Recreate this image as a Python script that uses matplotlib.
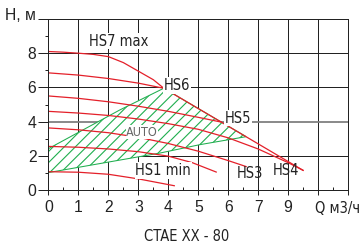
import matplotlib
matplotlib.use('Agg')
import matplotlib.pyplot as plt
from matplotlib import font_manager
from matplotlib.font_manager import FontProperties
from matplotlib.ticker import MultipleLocator
from matplotlib.transforms import offset_copy

plt.rcParams['font.family'] = ['Liberation Sans', 'DejaVu Sans']
plt.rcParams['hatch.linewidth'] = 0.8

# pick a narrow font file if one is installed
narrow_file = None
files = [f.fname for f in font_manager.fontManager.ttflist]
for key in ['LiberationSansNarrow-Regular', 'DejaVuSansCondensed.', 'RobotoCondensed-Regular',
            'NotoSans-Condensed', 'Roboto-Regular']:
    hit = [p for p in files if key in p]
    if hit:
        narrow_file = hit[0]
        break


def nfont(size):
    if narrow_file:
        return FontProperties(fname=narrow_file, size=size)
    return FontProperties(family='Liberation Sans', size=size * 0.85)


# Q, m3/h -> H, m
max_q = [0, 0.5, 1, 1.5, 2, 2.5, 3, 3.5, 3.85, 5.77, 8.5]
max_h = [8.1, 8.06, 8.0, 7.93, 7.8, 7.45, 6.95, 6.45, 5.95, 3.97, 1.15]
hs6_q = [0, 1, 2, 3, 3.85]
hs6_h = [6.85, 6.72, 6.52, 6.25, 5.95]
hs5_q = [0, 1, 2, 3, 4, 5, 5.77]
hs5_h = [5.5, 5.36, 5.16, 4.9, 4.6, 4.25, 3.97]
hs4_q = [0, 1, 2, 3, 4, 5, 6, 7, 8, 8.5]
hs4_h = [4.6, 4.5, 4.36, 4.15, 3.88, 3.55, 3.05, 2.4, 1.6, 1.15]
hs3_q = [0, 1, 2, 3, 4, 5, 6, 6.6]
hs3_h = [3.63, 3.52, 3.35, 3.08, 2.72, 2.27, 1.72, 1.37]
hs2_q = [0, 1, 2, 3, 4, 4.8, 5.6]
hs2_h = [2.55, 2.5, 2.4, 2.24, 1.98, 1.6, 1.05]
hs1_q = [0, 1, 2, 3, 3.6, 4.2]
hs1_h = [1.07, 1.04, 0.92, 0.65, 0.45, 0.25]

# AUTO zone outline
auto_q = [0, 2.38, 3.85, 5.77, 6.6, 5.05, 3.72, 0]
auto_h = [2.42, 4.68, 5.95, 3.97, 3.12, 2.65, 2.16, 1.02]

curve_labels = ['HS7 max', 'HS6', 'HS5', 'HS4', 'HS3', 'HS1 min']
label_q = [2.35, 4.3, 6.33, 7.93, 6.72, 3.83]
label_h = [8.7, 6.1, 4.2, 1.12, 0.94, 1.15]
label_box = [True, True, True, False, False, True]

xtick_labels = ['0', '1', '2', '3', '4', '5', '6', '7', '9', '', '']
ytick_labels = ['0', '2', '4', '6', '8', '']

red = '#e4202a'
green = '#1fae4e'
ink = '#222222'

fig = plt.figure(figsize=(3.61, 2.44), dpi=100)
ax = fig.add_axes([0.1343, 0.2213, 0.8297, 0.7008])

ax.set_xlim(0, 10)
ax.set_ylim(0, 10)
ax.set_axisbelow(True)

ax.fill(auto_q, auto_h, facecolor='white', edgecolor=green, hatch='///',
        lw=0.75, zorder=1)

for q, h in [(max_q, max_h), (hs6_q, hs6_h), (hs5_q, hs5_h), (hs4_q, hs4_h),
             (hs3_q, hs3_h), (hs2_q, hs2_h), (hs1_q, hs1_h)]:
    ax.plot(q, h, color=red, lw=0.9, zorder=2)

for t, q, h, b in zip(curve_labels, label_q, label_h, label_box):
    kw = {}
    if b:
        kw['bbox'] = dict(facecolor='white', edgecolor='none', pad=0.5)
    ax.text(q, h, t, ha='center', va='center', fontproperties=nfont(10.5),
            color=ink, zorder=3, **kw)

ax.text(3.13, 3.38, 'AUTO', ha='center', va='center', fontproperties=nfont(9),
        color='#666666', zorder=3,
        bbox=dict(facecolor='white', edgecolor='none', pad=0.3))

ax.set_xticks(range(11))
ax.set_xticklabels(xtick_labels)
ax.set_yticks(range(0, 11, 2))
ax.set_yticklabels(ytick_labels)
ax.xaxis.set_minor_locator(MultipleLocator(0.5))
ax.yaxis.set_minor_locator(MultipleLocator(1))

ax.tick_params(axis='x', which='major', direction='out', length=3.6,
               width=0.72, labelsize=11.3, pad=3.5, colors=ink)
ax.tick_params(axis='x', which='minor', direction='in', length=2.2,
               width=0.72, colors=ink)
ax.tick_params(axis='y', which='major', direction='out', length=7.2,
               width=0.72, labelsize=11.3, pad=1.5, colors=ink)
ax.tick_params(axis='y', which='minor', direction='out', length=2.2,
               width=0.72, colors=ink)

ax.grid(True, which='major', color=ink, lw=0.72)
ax.get_ygridlines()[2].set_color('#808080')
ax.get_ygridlines()[2].set_linewidth(1.3)

for s in ax.spines.values():
    s.set_linewidth(0.72)
    s.set_color(ink)

ax.text(0, 10, 'H, м', ha='right', va='center', fontsize=11.3,
        color=ink, clip_on=False,
        transform=offset_copy(ax.transData, fig, x=-13, y=3.5, units='dots'))

# axis unit label sits in the place of the tick at 9
fig.text(315 / 361, 1 - 213 / 244, 'Q м3/ч', ha='left', va='baseline',
         fontproperties=nfont(10.5), color=ink)

fig.text(187 / 361, 0.012, 'CTAE XX - 80', ha='center', va='baseline',
         fontproperties=nfont(10.5), color=ink)

fig.savefig('out.png', dpi=100)
